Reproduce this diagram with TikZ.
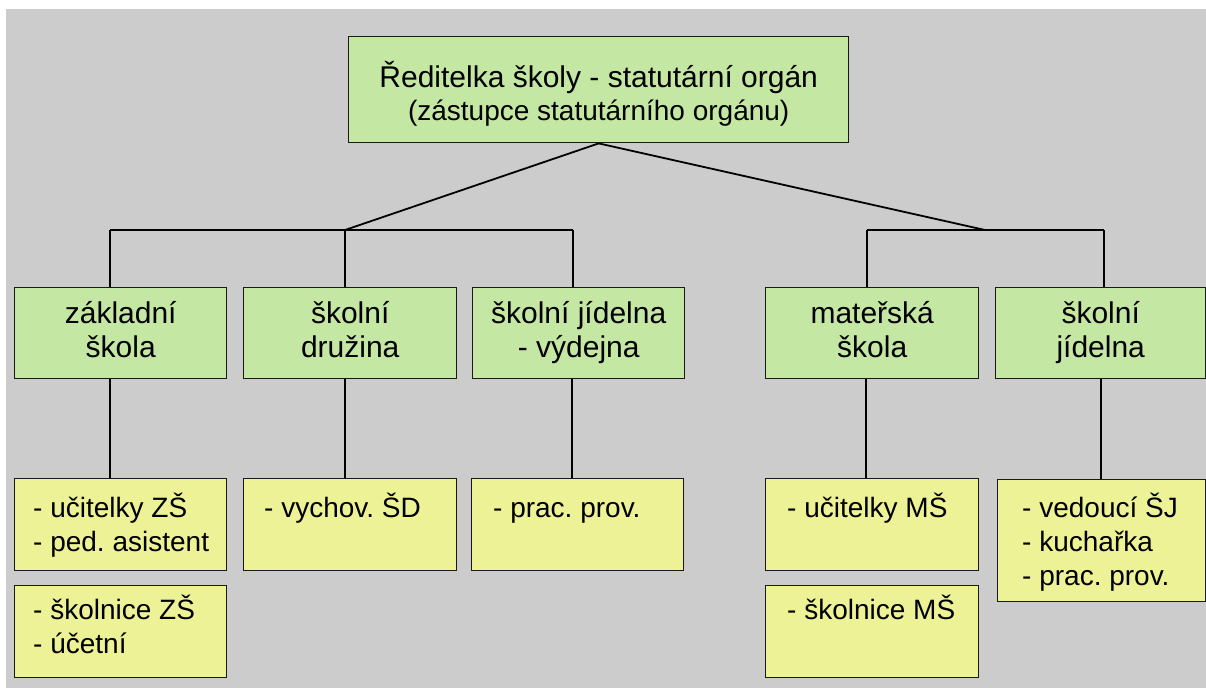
\documentclass[tikz,border=0pt]{standalone}
\usepackage{fontspec}
\setmainfont{Liberation Sans}
\usetikzlibrary{calc}
\definecolor{boxgreen}{RGB}{197,231,164}
\definecolor{boxyellow}{RGB}{238,242,150}
\definecolor{bggray}{RGB}{204,204,204}
\frenchspacing
\begin{document}
\begin{tikzpicture}[x=1pt,y=-1pt,
  box/.style={draw=black!90,line width=1.4pt,inner sep=0pt,anchor=north west},
  gbox/.style={box,fill=boxgreen},
  ybox/.style={box,fill=boxyellow},
  conn/.style={draw=black,line width=1.8pt},
  txt/.style={inner sep=0pt,font=\fontsize{28}{34}\selectfont\frenchspacing},
  head/.style={inner sep=0pt,font=\fontsize{30}{34}\selectfont\frenchspacing}]
\useasboundingbox (0,0) rectangle (1206,688);
\fill[white] (0,0) rectangle (1206,688);
\fill[bggray] (6,9) rectangle (1206,688);

% junction coordinates
\coordinate (jl) at (345,230);
\coordinate (jr) at (985,230);
\coordinate (b1) at (110,230);
\coordinate (b2) at (345,230);
\coordinate (b3) at (573,230);
\coordinate (b4) at (867,230);
\coordinate (b5) at (1104,230);
\coordinate (c1) at (110,0);
\coordinate (c2) at (345,0);
\coordinate (c3) at (572,0);
\coordinate (c4) at (866,0);
\coordinate (c5) at (1101,0);

% boxes
\node[gbox,minimum width=500pt,minimum height=106pt] (top) at (348,36) {};
\node[gbox,minimum width=212pt,minimum height=91pt] (g1) at (14,287) {};
\node[gbox,minimum width=213pt,minimum height=91pt] (g2) at (243,287) {};
\node[gbox,minimum width=212pt,minimum height=91pt] (g3) at (472,287) {};
\node[gbox,minimum width=213pt,minimum height=91pt] (g4) at (765,287) {};
\node[gbox,minimum width=210pt,minimum height=91pt] (g5) at (995,287) {};
\node[ybox,minimum width=212pt,minimum height=92pt] (y1) at (14,478) {};
\node[ybox,minimum width=213pt,minimum height=92pt] (y2) at (243,478) {};
\node[ybox,minimum width=212pt,minimum height=92pt] (y3) at (471,478) {};
\node[ybox,minimum width=213pt,minimum height=92pt] (y4) at (765,478) {};
\node[ybox,minimum width=208pt,minimum height=122pt] (y5) at (997,479) {};
\node[ybox,minimum width=212pt,minimum height=92pt] (y6) at (14,585) {};
\node[ybox,minimum width=213pt,minimum height=92pt] (y7) at (765,585) {};

% connectors
\draw[conn] (top.south) -- (jl);
\draw[conn] (top.south) -- (jr);
\draw[conn] (b1) -- (b3);
\draw[conn] (b4) -- (b5);
\draw[conn] (b1) -- (g1.north -| b1);
\draw[conn] (b2) -- (g2.north -| b2);
\draw[conn] (b3) -- (g3.north -| b3);
\draw[conn] (b4) -- (g4.north -| b4);
\draw[conn] (b5) -- (g5.north -| b5);
\draw[conn] (g1.south -| c1) -- (y1.north -| c1);
\draw[conn] (g2.south -| c2) -- (y2.north -| c2);
\draw[conn] (g3.south -| c3) -- (y3.north -| c3);
\draw[conn] (g4.south -| c4) -- (y4.north -| c4);
\draw[conn] (g5.south -| c5) -- (y5.north -| c5);

% texts
\node[head,anchor=base] (ttop1) at ($(top.north)+(0,51)$) {Ředitelka školy - statutární orgán};
\node[txt,anchor=base] (ttop2) at ($(top.north)+(0,84)$) {(zástupce statutárního orgánu)};
\node[head,anchor=base] (tg1) at ($(g1.north)+(0,36)$) {\begin{tabular}[t]{@{}c@{}}základní\\škola\end{tabular}};
\node[head,anchor=base] (tg2) at ($(g2.north)+(0,36)$) {\begin{tabular}[t]{@{}c@{}}školní\\družina\end{tabular}};
\node[head,anchor=base] (tg3) at ($(g3.north)+(0,36)$) {\begin{tabular}[t]{@{}c@{}}školní jídelna\\- výdejna\end{tabular}};
\node[head,anchor=base] (tg4) at ($(g4.north)+(0,36)$) {\begin{tabular}[t]{@{}c@{}}mateřská\\škola\end{tabular}};
\node[head,anchor=base] (tg5) at ($(g5.north)+(0,36)$) {\begin{tabular}[t]{@{}c@{}}školní\\jídelna\end{tabular}};

\node[txt,anchor=base west] (ty1) at ($(y1.north west)+(19,39)$) {\begin{tabular}[t]{@{}l@{}}- učitelky ZŠ\\- ped. asistent\end{tabular}};
\node[txt,anchor=base west] (ty2) at ($(y2.north west)+(21,39)$) {- vychov. ŠD};
\node[txt,anchor=base west] (ty3) at ($(y3.north west)+(22,39)$) {- prac. prov.};
\node[txt,anchor=base west] (ty4) at ($(y4.north west)+(22,39)$) {- učitelky MŠ};
\node[txt,anchor=base west] (ty5) at ($(y5.north west)+(25,38)$) {\begin{tabular}[t]{@{}l@{}}- vedoucí ŠJ\\- kuchařka\\- prac. prov.\end{tabular}};
\node[txt,anchor=base west] (ty6) at ($(y6.north west)+(19,34)$) {\begin{tabular}[t]{@{}l@{}}- školnice ZŠ\\- účetní\end{tabular}};
\node[txt,anchor=base west] (ty7) at ($(y7.north west)+(22,34)$) {- školnice MŠ};
\end{tikzpicture}
\end{document}
